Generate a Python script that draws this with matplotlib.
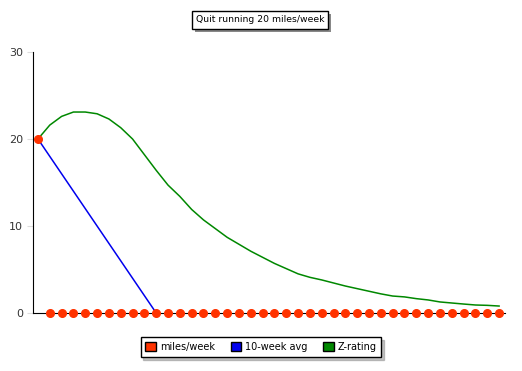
import matplotlib.pyplot as plt
from matplotlib.patches import Patch, Rectangle
import numpy as np

weeks = np.arange(40)
miles = [20] + [0] * 39
avg10 = [20, 18, 16, 14, 12, 10, 8, 6, 4, 2, 0]
zrating = [20.0, 21.6, 22.6, 23.1, 23.1, 22.9, 22.3, 21.3, 20.0, 18.2,
           16.4, 14.7, 13.4, 11.9, 10.7, 9.7, 8.7, 7.9, 7.1, 6.4,
           5.7, 5.1, 4.5, 4.1, 3.8, 3.45, 3.1, 2.8, 2.5, 2.2,
           1.95, 1.85, 1.65, 1.5, 1.27, 1.15, 1.03, 0.92, 0.88, 0.8]
yticks = [0, 10, 20, 30]

c_red = '#ff3300'
c_blue = '#0000ee'
c_green = '#008800'

fig = plt.figure(figsize=(5.22, 3.71), dpi=100)
ax = fig.add_axes([33/522, 58/371, 472/522, 261/371])

ax.plot(weeks, zrating, color=c_green, lw=1.1)
ax.plot(weeks[:len(avg10)], avg10, color=c_blue, lw=1.1)
ax.plot(weeks, miles, linestyle='none', marker='o', ms=5.5, color=c_red,
        zorder=5, clip_on=False)

ax.set_xlim(-0.42, 39.5)
ax.set_ylim(0, 30)
ax.set_yticks(yticks)
ax.set_xticks([])
ax.spines['top'].set_visible(False)
ax.spines['right'].set_visible(False)
ax.tick_params(axis='y', length=4, color='#dddddd', labelcolor='#333333', labelsize=8, pad=3)

# title box, shadow added after layout
tx, ty = 260/522, 1 - 20/371
title = fig.text(tx, ty, 'Quit running 20 miles/week', fontsize=6.7, ha='center', va='center',
                 zorder=3,
                 bbox=dict(boxstyle='square,pad=0.45', fc='white', ec='black', lw=1))

handles = [Patch(fc=c_red, ec='black', label='miles/week'),
           Patch(fc=c_blue, ec='black', label='10-week avg'),
           Patch(fc=c_green, ec='black', label='Z-rating')]
leg = fig.legend(handles=handles, loc='center', bbox_to_anchor=(261/522, 1 - 347/371),
                 ncol=3, fontsize=7, frameon=True, fancybox=False,
                 shadow={'color': '#888888'}, edgecolor='black',
                 handlelength=1.1, handleheight=1.1, handletextpad=0.4,
                 columnspacing=1.6, borderpad=0.5)
leg.get_frame().set_linewidth(1)

fig.canvas.draw()
bb = title.get_bbox_patch().get_window_extent(fig.canvas.get_renderer())
bb = bb.transformed(fig.transFigure.inverted())
fig.add_artist(Rectangle((bb.x0 + 3/522, bb.y0 - 3/371), bb.width, bb.height,
                         transform=fig.transFigure, fc='#888888', ec='none', zorder=2))

fig.savefig('out.png', dpi=100)
